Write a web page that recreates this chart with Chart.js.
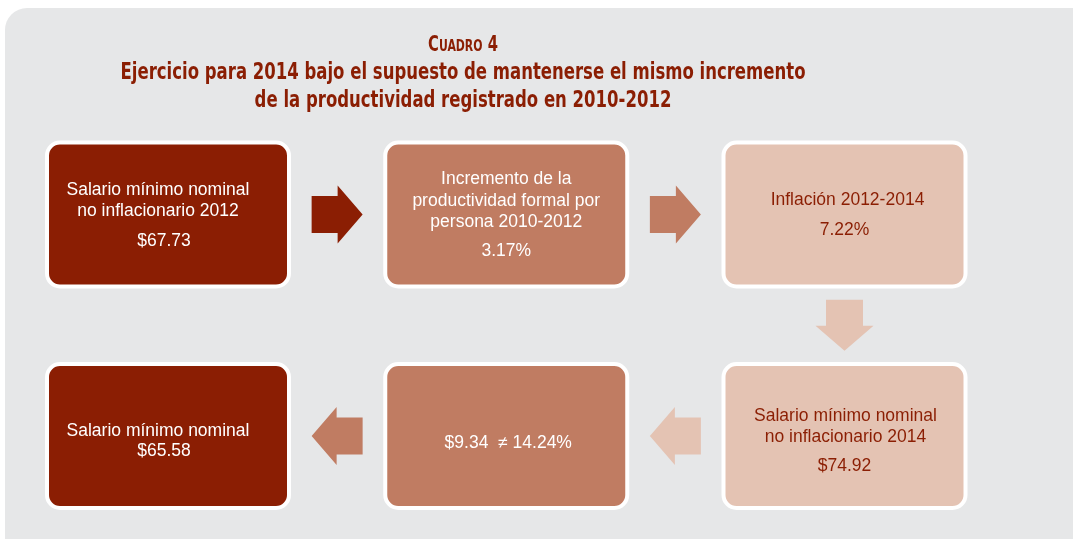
<!DOCTYPE html>
<html>
<head>
<meta charset="utf-8">
<script src="https://cdn.jsdelivr.net/npm/chart.js@4.4.1/dist/chart.umd.min.js"></script>
<style>
  html, body { margin: 0; padding: 0; background: #ffffff; }
  canvas { display: block; }
</style>
</head>
<body>
<canvas id="cuadro4" width="1073" height="539"></canvas>
<script>
// Datos del cuadro (orden del flujo)
const boxCol = [0, 1, 2, 2, 1, 0];
const boxRow = [0, 0, 0, 1, 1, 1];
const boxLabels = [
    ['Salario mínimo nominal', 'no inflacionario 2012'],
    ['Incremento de la', 'productividad formal por', 'persona 2010-2012'],
    ['Inflación 2012-2014'],
    ['Salario mínimo nominal', 'no inflacionario 2014'],
    [],
    ['Salario mínimo nominal']
];
const boxValues = ['$67.73', '3.17%', '7.22%', '$74.92', '$9.34  \u2260 14.24%', '$65.58'];
const titleKicker = 'Cuadro 4';
const titleLines = [
    'Ejercicio para 2014 bajo el supuesto de mantenerse el mismo incremento',
    'de la productividad registrado en 2010-2012'
];

// Estilos
const DARK = '#8b1e03';
const MID = '#c07c62';
const LIGHT = '#e4c3b3';
const PANEL = '#e6e7e8';
const boxFill = [DARK, MID, LIGHT, LIGHT, MID, DARK];
const boxText = ['#ffffff', '#ffffff', DARK, DARK, '#ffffff', '#ffffff'];
const labelShift = [-10, 0, 3, 1, 0, -10];   // ajuste horizontal del texto
const valueShift = [-4, 0, 0, 0, 2, -4];
const valueGap = [30, 29, 30, 29, 0, 20];
const rowTextDy = [0, 4];
const BOX_W = 242, BOX_H = 144, BOX_R = 13;
const ARROW_LEN = 51, ARROW_SHAFT = 26, SHAFT_H = 37, HEAD_H = 58;
const LINE_H = 21.5;
const TEXT_FONT = '17.5px "Liberation Sans", Arial, sans-serif';
const TITLE_FAMILY = '"Liberation Sans Narrow", "DejaVu Sans Condensed", sans-serif';

//  Plugin que dibuja el panel, el título, las flechas y los recuadros
const diagram = {
    id: 'diagram',
    beforeDraw(chart) {
        const ctx = chart.ctx;
        ctx.save();
        ctx.fillStyle = '#ffffff';
        ctx.fillRect(0, 0, chart.width, chart.height);
        ctx.fillStyle = PANEL;
        ctx.beginPath();
        ctx.roundRect(5, 8, chart.width + 30, chart.height + 30, 22);
        ctx.fill();

        // titulo
        ctx.fillStyle = DARK;
        ctx.textBaseline = 'alphabetic';
        ctx.font = 'bold 23.5px ' + TITLE_FAMILY;
        const sx = 685 / ctx.measureText(titleLines[0]).width;
        const baselines = [79, 107];
        titleLines.forEach((t, i) => {
            const w = ctx.measureText(t).width * sx;
            ctx.save();
            ctx.translate(463 - w / 2, baselines[i]);
            ctx.scale(sx, 1);
            ctx.fillText(t, 0, 0);
            ctx.restore();
        });

        // "Cuadro 4" en versalitas
        const parts = [
            { t: titleKicker[0], f: 'bold 21px ' },
            { t: titleKicker.slice(1, 6).toUpperCase(), f: 'bold 15.5px ' },
            { t: titleKicker.slice(6), f: 'bold 21px ' }
        ];
        let total = 0;
        parts.forEach(p => { ctx.font = p.f + TITLE_FAMILY; p.w = ctx.measureText(p.t).width * sx; total += p.w; });
        let x = 463 - total / 2;
        parts.forEach(p => {
            ctx.save();
            ctx.font = p.f + TITLE_FAMILY;
            ctx.translate(x, 51);
            ctx.scale(sx, 1);
            ctx.fillText(p.t, 0, 0);
            ctx.restore();
            x += p.w;
        });
        ctx.restore();
    },
    afterDatasetsDraw(chart) {
        const ctx = chart.ctx;
        const pts = chart.getDatasetMeta(0).data;
        ctx.save();

        // flechas entre recuadros consecutivos
        for (let i = 0; i < pts.length - 1; i++) {
            const a = pts[i], b = pts[i + 1];
            const mx = (a.x + b.x) / 2, my = (a.y + b.y) / 2;
            const ang = Math.atan2(b.y - a.y, b.x - a.x);
            const L = ARROW_LEN / 2;
            ctx.save();
            ctx.translate(mx, my);
            ctx.rotate(ang);
            ctx.fillStyle = boxFill[i];
            ctx.beginPath();
            ctx.moveTo(-L, -SHAFT_H / 2);
            ctx.lineTo(-L + ARROW_SHAFT, -SHAFT_H / 2);
            ctx.lineTo(-L + ARROW_SHAFT, -HEAD_H / 2);
            ctx.lineTo(L, 0);
            ctx.lineTo(-L + ARROW_SHAFT, HEAD_H / 2);
            ctx.lineTo(-L + ARROW_SHAFT, SHAFT_H / 2);
            ctx.lineTo(-L, SHAFT_H / 2);
            ctx.closePath();
            ctx.fill();
            ctx.restore();
        }

        // recuadros
        pts.forEach((p, i) => {
            ctx.beginPath();
            ctx.roundRect(p.x - BOX_W / 2, p.y - BOX_H / 2, BOX_W, BOX_H, BOX_R);
            ctx.fillStyle = boxFill[i];
            ctx.fill();
            ctx.lineWidth = 4;
            ctx.strokeStyle = '#ffffff';
            ctx.stroke();

            const labels = boxLabels[i];
            const n = labels.length;
            const cy = p.y + rowTextDy[boxRow[i]];
            const blockH = n > 0 ? (n - 1) * LINE_H + valueGap[i] : 0;
            let y = cy - blockH / 2 + 1;
            ctx.font = TEXT_FONT;
            ctx.fillStyle = boxText[i];
            ctx.textAlign = 'center';
            ctx.textBaseline = 'middle';
            labels.forEach((t, k) => {
                ctx.fillText(t, p.x + labelShift[i], y + k * LINE_H);
            });
            const vy = n > 0 ? y + (n - 1) * LINE_H + valueGap[i] : cy + 3;
            ctx.fillText(boxValues[i], p.x + valueShift[i], vy);
        });
        ctx.restore();
    }
};

const data = {
    datasets: [{
        label: 'Cuadro 4',
        data: boxCol.map((c, i) => ({ x: c, y: boxRow[i] })),
        pointRadius: 0,
        showLine: false
    }]
};

const config = {
    type: 'scatter',
    data: data,
    options: {
        responsive: false,
        animation: false,
        layout: { padding: { left: 168, right: 228.5, top: 214.5, bottom: 103 } },
        scales: {
            x: { type: 'linear', min: 0, max: 2, display: false },
            y: { type: 'linear', min: 0, max: 1, reverse: true, display: false }
        },
        plugins: {
            legend: { display: false },
            tooltip: { enabled: false },
            title: { display: false }
        }
    },
    plugins: [diagram]
};

new Chart(document.getElementById('cuadro4'), config);
</script>
</body>
</html>
